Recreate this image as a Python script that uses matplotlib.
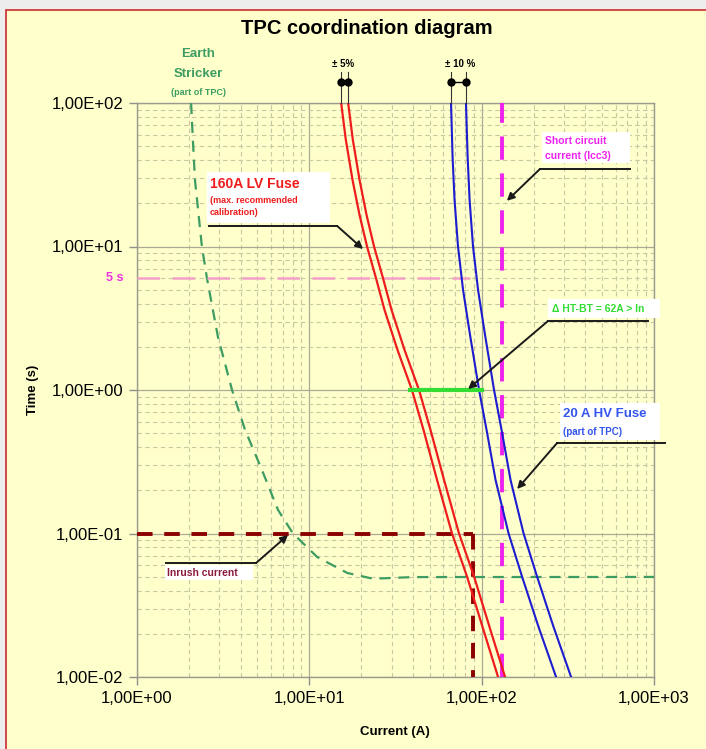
import matplotlib
matplotlib.use("Agg")
import matplotlib.pyplot as plt
from matplotlib.patches import Rectangle
from matplotlib.ticker import FixedLocator, FuncFormatter, LogLocator, NullFormatter

plt.rcParams['font.family'] = ['Liberation Sans', 'DejaVu Sans']

# --- data (current in A, time in s) ---
lv_low_i = [15.3, 16.29, 17.81, 19.56, 21.62, 24.39, 27.32, 32.50, 39.4, 46.0, 55.1, 67.3, 82.3, 102.4, 124.5]
lv_high_i = [16.8, 17.89, 19.56, 21.48, 23.74, 26.78, 30.0, 35.69, 43.3, 50.5, 60.5, 73.9, 90.4, 112.4, 136.7]
lv_t = [100, 55.2, 29.1, 16.58, 10, 6, 3.61, 1.90, 1, 0.526, 0.236, 0.1, 0.05, 0.0213, 0.01]

hv_low_i = [66.4, 67.8, 69.6, 72.9, 78.0, 85.6, 96.6, 106.8, 120.4, 143.3, 171.6, 213.9, 270.3]
hv_high_i = [81.1, 82.9, 85.1, 89.1, 95.3, 104.6, 118.0, 130.5, 147.1, 175.1, 209.7, 261.4, 330.3]
hv_t = [100, 42.0, 21.1, 10, 4.98, 2.42, 1, 0.526, 0.236, 0.1, 0.05, 0.0223, 0.01]

earth_i = [2.06, 2.11, 2.17, 2.38, 2.55, 2.95, 3.56, 4.24, 5.31, 6.58, 8.04, 11.1, 16.6, 23.4, 40.0, 1000]
earth_t = [100, 55.2, 29, 10, 5.95, 2.34, 1, 0.526, 0.277, 0.146, 0.1, 0.0686, 0.0531, 0.0484, 0.0497, 0.0498]

five_s_t = 6.0
five_s_i = [1, 85.7]
icc3_i = 131
inrush_t = 0.1
inrush_i = 89
delta_i = [38.4, 100.5]
delta_t = 1.0
tol_dot_t = 140
tol_top_t = 164

fig = plt.figure(figsize=(7.06, 7.49), dpi=100)
fig.patch.set_facecolor('#EDEDED')
fig.add_artist(Rectangle((6 / 706, -0.02), 1.0, 1 - 9.5 / 749 + 0.02, transform=fig.transFigure,
                         facecolor='#FFFFCC', edgecolor='#D03A3A', lw=1.3, zorder=0))

ax = fig.add_axes([137 / 706, 1 - 677 / 749, 517 / 706, 574 / 749])
ax.set_facecolor('none')
ax.set_xscale('log')
ax.set_yscale('log')
ax.set_xlim(1, 1000)
ax.set_ylim(0.01, 100)

fmt = FuncFormatter(lambda v, p: f"{v:.2E}".replace('.', ','))
ax.xaxis.set_major_locator(FixedLocator([1, 10, 100, 1000]))
ax.yaxis.set_major_locator(FixedLocator([0.01, 0.1, 1, 10, 100]))
ax.xaxis.set_major_formatter(fmt)
ax.yaxis.set_major_formatter(fmt)
for axis in (ax.xaxis, ax.yaxis):
    axis.set_minor_locator(LogLocator(base=10, subs=range(2, 10)))
    axis.set_minor_formatter(NullFormatter())
ax.tick_params(which='major', length=6, width=1, color='#909090', labelsize=12, pad=4)
ax.tick_params(which='minor', length=0)
ax.grid(which='major', color='#ABAB95', lw=0.9, ls='-')
ax.grid(which='minor', color='#C8C8A2', lw=0.8, ls=(0, (4, 3)))
ax.set_axisbelow(True)
for s in ax.spines.values():
    s.set_color('#9A9A90')
    s.set_linewidth(1)

# curves
ax.plot(earth_i, earth_t, color='#3C9C62', lw=1.6, ls=(0, (5, 3.5)), zorder=3)
ax.plot(five_s_i, [five_s_t] * 2, color='#F5A0C8', lw=1.8, ls=(0, (9, 5)), zorder=3)
ax.plot([1, inrush_i], [inrush_t] * 2, color='#8B0000', lw=2.8, ls=(0, (4, 3)), zorder=3)
ax.plot([inrush_i] * 2, [inrush_t, 0.01], color='#8B0000', lw=2.8, ls=(0, (4, 3)), zorder=3)
ax.plot([icc3_i] * 2, [0.01, 100], color='#EE22EE', lw=2.8, ls=(0, (6, 3.5)), zorder=3)
ax.plot(lv_low_i, lv_t, color='#EE1C1C', lw=1.6, zorder=4)
ax.plot(lv_high_i, lv_t, color='#EE1C1C', lw=1.6, zorder=4)
ax.plot(hv_low_i, hv_t, color='#1C1CD0', lw=1.5, zorder=4)
ax.plot(hv_high_i, hv_t, color='#1C1CD0', lw=1.5, zorder=4)
ax.plot(delta_i, [delta_t] * 2, color='#33DD33', lw=3, zorder=4)

# tolerance markers above the plot
for i in (lv_low_i[0], lv_high_i[0], hv_low_i[0], hv_high_i[0]):
    ax.plot([i, i], [100, tol_top_t], color='#333333', lw=0.8, clip_on=False, zorder=6)
ax.plot([hv_low_i[0], hv_high_i[0]], [tol_dot_t] * 2, color='black', lw=1, clip_on=False, zorder=6)
ax.plot([lv_low_i[0], lv_high_i[0], hv_low_i[0], hv_high_i[0]], [tol_dot_t] * 4, 'o',
        color='black', ms=5, clip_on=False, zorder=7)
ax.text(0.398, 1.068, '± 5%', transform=ax.transAxes, ha='center', va='center',
        fontsize=7, fontweight='bold')
ax.text(0.625, 1.068, '± 10 %', transform=ax.transAxes, ha='center', va='center',
        fontsize=7, fontweight='bold')

# Earth stricker label
green_txt = '#3C9C62'
ax.text(0.118, 1.085, 'Earth', transform=ax.transAxes, ha='center', va='center',
        fontsize=9.5, fontweight='bold', color=green_txt)
ax.text(0.118, 1.050, 'Stricker', transform=ax.transAxes, ha='center', va='center',
        fontsize=9.5, fontweight='bold', color=green_txt)
ax.text(0.118, 1.019, '(part of TPC)', transform=ax.transAxes, ha='center', va='center',
        fontsize=6.5, fontweight='bold', color=green_txt)

# 5 s label
ax.text(-0.027, five_s_t, '5 s', transform=ax.get_yaxis_transform(), ha='right', va='center',
        fontsize=9, fontweight='bold', color='#EE33DD')


def box(x0, y0, x1, y1):
    ax.add_patch(Rectangle((x0, y0), x1 - x0, y1 - y0, transform=ax.transAxes,
                           facecolor='white', edgecolor='none', clip_on=False, zorder=5))


def connector(xa, xb, y, target):
    ax.plot([xa, xb], [y, y], color='#1A1A1A', lw=1.4, clip_on=False, zorder=6)
    ax.annotate('', xy=target, xytext=(xb, y), annotation_clip=False,
                arrowprops=dict(arrowstyle='-|>', color='#1A1A1A', lw=1.4,
                                mutation_scale=11, shrinkA=0, shrinkB=0), zorder=6)


# 160A LV fuse
box(0.1354, 0.791, 0.3733, 0.880)
ax.text(0.141, 0.859, '160A LV Fuse', transform=ax.transAxes, va='center',
        fontsize=10, fontweight='bold', color='#EE1C1C', zorder=6)
ax.text(0.141, 0.831, '(max. recommended', transform=ax.transAxes, va='center',
        fontsize=6.5, fontweight='bold', color='#EE1C1C', zorder=6)
ax.text(0.141, 0.810, 'calibration)', transform=ax.transAxes, va='center',
        fontsize=6.5, fontweight='bold', color='#EE1C1C', zorder=6)
connector(2.62, 14.5, 13.9, (20.5, 9.6))

# short circuit
box(0.783, 0.8955, 0.954, 0.9495)
ax.text(0.789, 0.934, 'Short circuit', transform=ax.transAxes, va='center',
        fontsize=7.5, fontweight='bold', color='#EE22EE', zorder=6)
ax.text(0.789, 0.908, 'current (Icc3)', transform=ax.transAxes, va='center',
        fontsize=7.5, fontweight='bold', color='#EE22EE', zorder=6)
connector(726, 218, 34.7, (140, 20.8))

# delta
box(0.795, 0.6254, 1.012, 0.658)
ax.text(0.803, 0.641, 'Δ HT-BT = 62A > In', transform=ax.transAxes, va='center',
        fontsize=7.5, fontweight='bold', color='#33DD33', zorder=6)
connector(924, 243, 3.03, (83.4, 1.016))

# 20 A HV fuse
box(0.818, 0.413, 1.012, 0.477)
ax.text(0.824, 0.458, '20 A HV Fuse', transform=ax.transAxes, va='center',
        fontsize=9.5, fontweight='bold', color='#3355EE', zorder=6)
ax.text(0.824, 0.427, '(part of TPC)', transform=ax.transAxes, va='center',
        fontsize=7, fontweight='bold', color='#3355EE', zorder=6)
connector(1160, 274, 0.427, (160.6, 0.204))

# inrush
box(0.054, 0.169, 0.224, 0.195)
ax.text(0.058, 0.181, 'Inrush current', transform=ax.transAxes, va='center',
        fontsize=7.5, fontweight='bold', color='#8B1A3A', zorder=6)
connector(1.47, 4.91, 0.0623, (7.52, 0.0976))

fig.text(367 / 706, 1 - 28 / 749, 'TPC coordination diagram', ha='center', va='center',
         fontsize=14.5, fontweight='bold')
fig.text(395 / 706, 1 - 732 / 749, 'Current (A)', ha='center', va='center',
         fontsize=9.5, fontweight='bold')
fig.text(33 / 706, 1 - 390 / 749, 'Time (s)', ha='center', va='center', rotation=90,
         fontsize=9.5, fontweight='bold')

fig.savefig('out.png', dpi=100, facecolor=fig.get_facecolor())
